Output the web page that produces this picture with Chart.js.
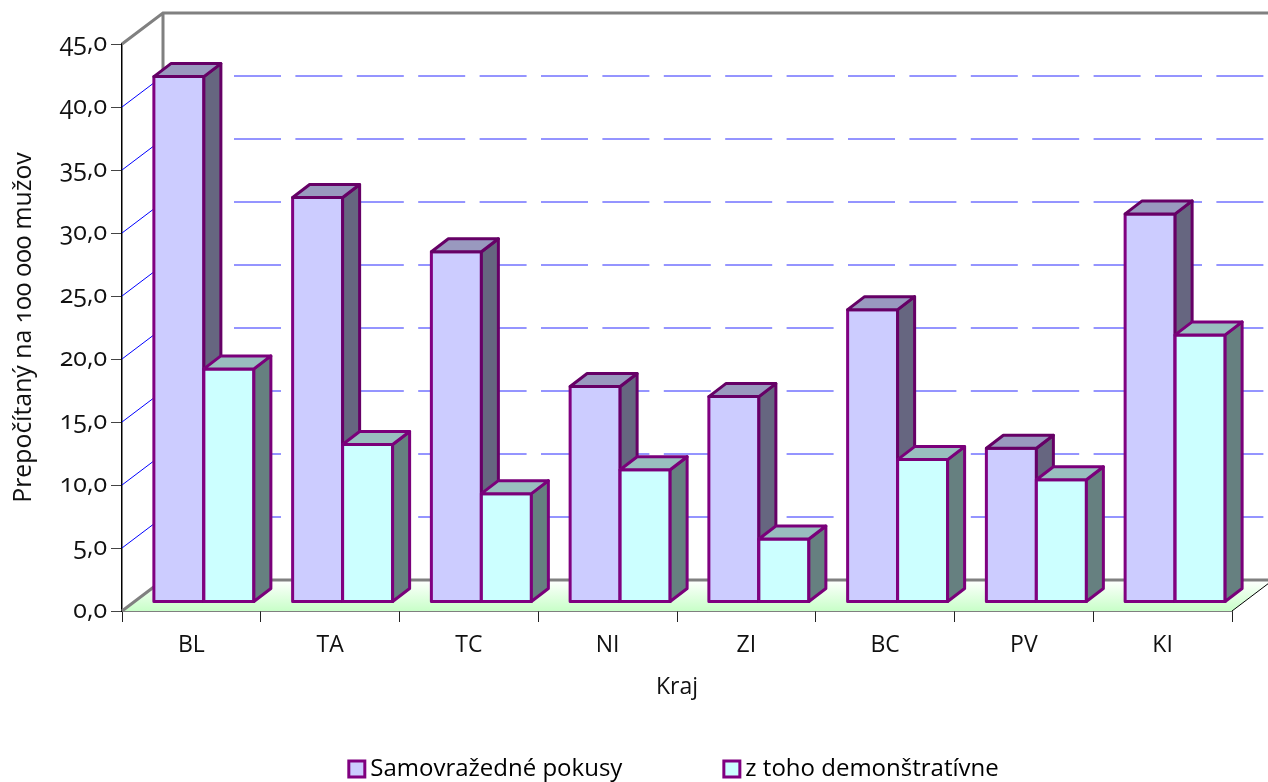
<!DOCTYPE html>
<html>
<head>
<meta charset="utf-8">
<style>
html,body{margin:0;padding:0;background:#fff;}
canvas{display:block;font-feature-settings:"onum";font-variant-numeric:oldstyle-nums;}
</style>
<script src="https://cdn.jsdelivr.net/npm/chart.js@4"></script>
</head>
<body>
<canvas id="c" width="1268" height="782"></canvas>
<script>
const categories = ['BL','TA','TC','NI','ZI','BC','PV','KI'];
const attempts = [41.7,32.1,27.8,17.1,16.3,23.2,12.2,30.8];
const demonstrative = [18.5,12.5,8.6,10.5,5.0,11.3,9.7,21.2];
const seriesNames = ['Samovražedné pokusy','z toho demonštratívne'];
const yTicks = [0,5,10,15,20,25,30,35,40,45];
const yTitle = 'Prepočítaný na 100 000 mužov';
const xTitle = 'Kraj';

const FONT = '"Open Sans"';
const SIZE = 23;
// 3D projection of the Excel-like chart
const WALL = {dx: 41, dy: -31};
const FRONT = {dx: 12.5, dy: -9};
const DEPTH = {dx: 17, dy: -13};

const faces = [
  {front:'#ccccff', top:'#9999bf', side:'#666680', edge:'#800080', dark:'#660066'},
  {front:'#ccffff', top:'#99bfbf', side:'#668080', edge:'#800080', dark:'#7a007a'}
];

function drawBars(chart, index){
  const ctx = chart.ctx;
  const meta = chart.getDatasetMeta(index);
  const f = faces[index];
  ctx.save();
  ctx.translate(FRONT.dx, FRONT.dy);
  meta.controller.draw();
  ctx.restore();
  ctx.save();
  ctx.lineWidth = 3; ctx.lineJoin = 'round';
  meta.data.forEach(el => {
    const p = el.getProps(['x','y','base','width'], true);
    const l = p.x - p.width/2 + FRONT.dx, r = p.x + p.width/2 + FRONT.dx;
    const t = p.y + FRONT.dy, b = p.base + FRONT.dy;
    const dx = DEPTH.dx, dy = DEPTH.dy;
    ctx.strokeStyle = f.edge;
    ctx.strokeRect(l, t, r - l, b - t);
    ctx.strokeStyle = f.dark;
    ctx.fillStyle = f.side;
    ctx.beginPath();
    ctx.moveTo(r, t); ctx.lineTo(r + dx, t + dy); ctx.lineTo(r + dx, b + dy); ctx.lineTo(r, b);
    ctx.closePath(); ctx.fill(); ctx.stroke();
    ctx.fillStyle = f.top;
    ctx.beginPath();
    ctx.moveTo(l, t); ctx.lineTo(l + dx, t + dy); ctx.lineTo(r + dx, t + dy); ctx.lineTo(r, t);
    ctx.closePath(); ctx.fill(); ctx.stroke();
  });
  ctx.restore();
}

const plugin3d = {
  id: 'plugin3d',
  // the x axis box is short because the legend reserves a tall band; let its labels and title extend below it
  afterLayout(chart){ chart.scales.x.bottom += 20; },
  beforeDatasetsDraw(chart){
    const {ctx, chartArea:a, scales:{y}} = chart;
    const W = chart.width;
    const bl = a.bottom, fl = a.left, fr = a.right;
    ctx.save();
    // floor
    const g = ctx.createLinearGradient(0, bl + WALL.dy, 0, bl);
    g.addColorStop(0, '#ffffff'); g.addColorStop(1, '#c8ffc8');
    ctx.fillStyle = g;
    ctx.beginPath();
    ctx.moveTo(fl, bl); ctx.lineTo(fl + WALL.dx, bl + WALL.dy);
    ctx.lineTo(fr + WALL.dx, bl + WALL.dy); ctx.lineTo(fr, bl);
    ctx.closePath(); ctx.fill();
    // gridlines on side and back wall
    yTicks.forEach(v => {
      if (v === 0 || v === 45) return;
      const p = y.getPixelForValue(v);
      ctx.strokeStyle = '#0000ff'; ctx.lineWidth = 1; ctx.setLineDash([]);
      ctx.beginPath(); ctx.moveTo(fl, p); ctx.lineTo(fl + WALL.dx, p + WALL.dy); ctx.stroke();
      ctx.strokeStyle = '#2a2aff';
      ctx.setLineDash([47, 14.4]);
      ctx.beginPath(); ctx.moveTo(172.6, p + WALL.dy); ctx.lineTo(W, p + WALL.dy); ctx.stroke();
    });
    ctx.setLineDash([]);
    // wall frame
    ctx.strokeStyle = '#808080'; ctx.lineWidth = 3;
    const t = y.getPixelForValue(45);
    ctx.beginPath();
    ctx.moveTo(fl, t); ctx.lineTo(fl + WALL.dx, t + WALL.dy); ctx.lineTo(W, t + WALL.dy);
    ctx.moveTo(fl + WALL.dx, t + WALL.dy); ctx.lineTo(fl + WALL.dx, bl + WALL.dy);
    ctx.lineTo(W, bl + WALL.dy);
    ctx.moveTo(fl, bl); ctx.lineTo(fl + WALL.dx, bl + WALL.dy);
    ctx.stroke();
    // front-right floor edge
    ctx.strokeStyle = '#000'; ctx.lineWidth = 1;
    ctx.beginPath(); ctx.moveTo(fr, bl); ctx.lineTo(W, bl - (W - fr) * 31 / 41); ctx.stroke();
    ctx.restore();
  },
  // series are painted left to right, so that each front face hides the side of its neighbour
  beforeDatasetDraw(){ return false; },
  afterDatasetsDraw(chart){
    chart.data.datasets.forEach((d, i) => drawBars(chart, i));
  }
};

Chart.defaults.font.family = FONT;
Chart.defaults.font.size = SIZE;
Chart.defaults.color = '#111';

new Chart(document.getElementById('c'), {
  type: 'bar',
  data: {
    labels: categories,
    datasets: [
      {label: seriesNames[0], data: attempts, backgroundColor: faces[0].front, borderColor: faces[0].edge, borderWidth: 0},
      {label: seriesNames[1], data: demonstrative, backgroundColor: faces[1].front, borderColor: faces[1].edge, borderWidth: 0}
    ]
  },
  plugins: [plugin3d],
  options: {
    responsive: false,
    animation: false,
    events: [],
    layout: {padding: {top: 44, right: 36, left: 0, bottom: -9}},
    datasets: {bar: {categoryPercentage: 0.7207, barPercentage: 1}},
    plugins: {
      tooltip: {enabled: false},
      legend: {
        position: 'bottom',
        fullSize: false,
        labels: {
          usePointStyle: true,
          pointStyle: 'rect',
          boxWidth: 3,
          boxHeight: 16,
          padding: 108,
          font: {family: FONT, size: 24},
          color: '#111',
          generateLabels(chart){
            return chart.data.datasets.map((d, i) => ({
              text: d.label, fillStyle: d.backgroundColor, strokeStyle: d.borderColor,
              lineWidth: 3, pointStyle: 'rect', datasetIndex: i, hidden: false
            }));
          }
        }
      }
    },
    scales: {
      x: {
        grid: {drawOnChartArea: false, drawTicks: true, tickLength: 11, color: '#222', offset: true},
        border: {color: '#000', width: 1.5},
        ticks: {padding: 10, maxRotation: 0, font: {family: FONT, size: SIZE}, color: '#111'},
        title: {display: true, text: xTitle, font: {family: FONT, size: SIZE}, color: '#111', padding: {top: 0, bottom: -32}},
        afterFit(s){ s.height = 38; }
      },
      y: {
        min: 0, max: 45,
        afterBuildTicks(s){ s.ticks = yTicks.map(v => ({value: v})); },
        grid: {drawOnChartArea: false, drawTicks: true, tickLength: 11, color: '#444'},
        border: {color: '#000', width: 1.5},
        ticks: {padding: 4, font: {family: FONT, size: 25}, color: '#111',
          callback: v => v.toFixed(1).replace('.', ',')},
        title: {display: true, text: yTitle, font: {family: FONT, size: 24.8}, color: '#111', padding: {top: 9, bottom: 0}},
        afterFit(s){ s.width = 122; }
      }
    }
  }
});
</script>
</body>
</html>
